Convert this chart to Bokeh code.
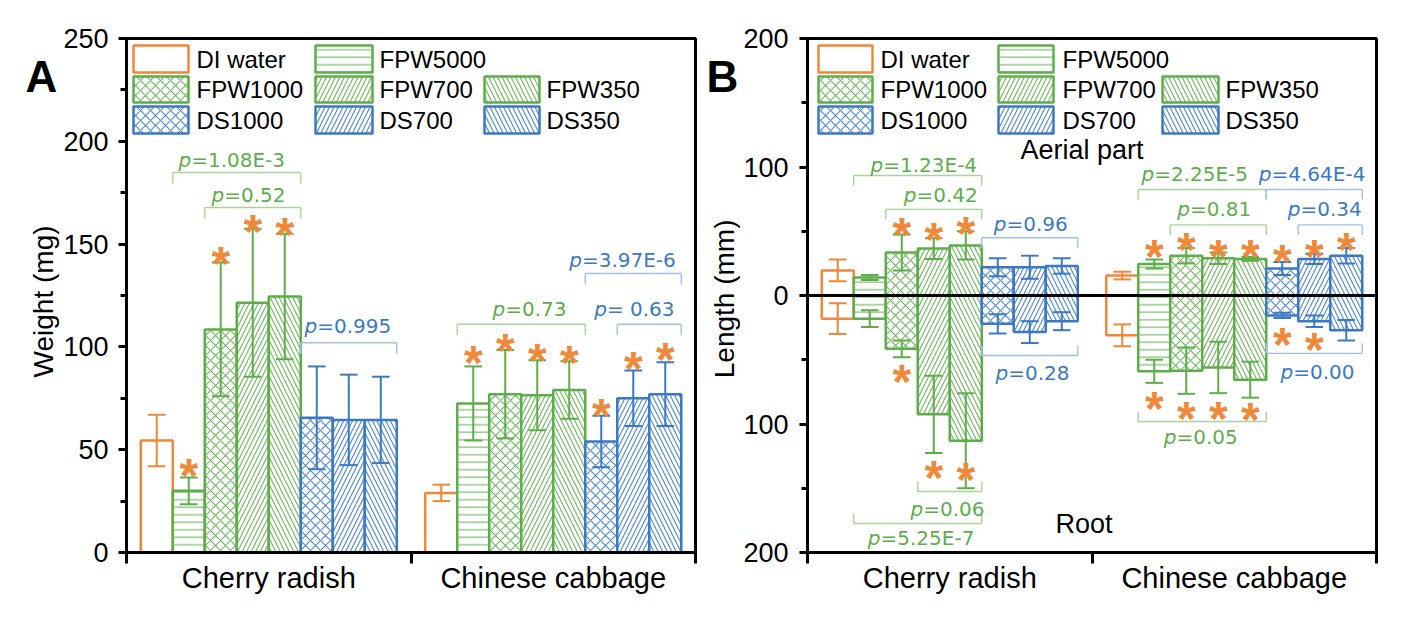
import math
from bokeh.plotting import figure
from bokeh.layouts import row
from bokeh.models import FixedTicker, Span, ColumnDataSource
from bokeh.core.properties import value
from bokeh.embed import file_html
from bokeh.resources import INLINE

# ---------------- data ----------------
CATEGORIES = ["Cherry radish", "Chinese cabbage"]
SERIES = ["DI water", "FPW5000", "FPW1000", "FPW700", "FPW350", "DS1000", "DS700", "DS350"]

# Panel A: weight (mg), mean and error
WEIGHT_CHERRY = [54.5, 30.0, 108.5, 121.5, 124.5, 65.5, 64.5, 64.5]
WEIGHT_CHERRY_ERR = [12.5, 6.5, 32.5, 36.0, 30.5, 25.0, 22.0, 21.0]
WEIGHT_CABBAGE = [29.0, 72.5, 77.0, 76.5, 79.0, 54.0, 75.0, 77.0]
WEIGHT_CABBAGE_ERR = [4.0, 18.0, 21.5, 17.0, 14.0, 12.5, 13.5, 15.5]

# Panel B: length (mm), aerial part (up) and root (down)
AERIAL_CHERRY = [19.5, 14.0, 33.5, 36.5, 39.0, 22.0, 22.0, 23.0]
AERIAL_CHERRY_ERR = [8.5, 2.0, 14.0, 8.0, 11.0, 7.0, 9.0, 6.0]
AERIAL_CABBAGE = [15.5, 24.5, 31.0, 29.0, 28.5, 21.0, 28.5, 31.0]
AERIAL_CABBAGE_ERR = [3.0, 3.5, 6.0, 4.5, 1.5, 5.0, 4.0, 6.0]
ROOT_CHERRY = [18.0, 18.0, 41.5, 92.5, 113.0, 22.0, 28.5, 20.0]
ROOT_CHERRY_ERR = [12.0, 6.5, 6.5, 30.0, 37.0, 7.5, 8.5, 7.0]
ROOT_CABBAGE = [31.0, 59.0, 58.5, 56.0, 65.5, 15.5, 20.0, 27.0]
ROOT_CABBAGE_ERR = [8.5, 9.0, 18.0, 20.0, 14.0, 2.0, 4.5, 8.0]

WEIGHT_TICKS = [0, 50, 100, 150, 200, 250]
WEIGHT_MINOR = [25, 75, 125, 175, 225]
LENGTH_TICKS = [-200, -100, 0, 100, 200]
LENGTH_TICK_LABELS = ["200", "100", "0", "100", "200"]
LENGTH_MINOR = [-150, -50, 50, 150]

# significance stars: (category, series, y)
STARS_A = [(0, 1, 42.8), (0, 2, 146), (0, 3, 161.5), (0, 4, 160),
           (1, 1, 98), (1, 2, 103.6), (1, 3, 98.7), (1, 4, 98),
           (1, 5, 72), (1, 6, 95), (1, 7, 99)]
STARS_B = [(0, 2, 56), (0, 3, 52), (0, 4, 57),
           (1, 1, 39), (1, 2, 44), (1, 3, 39), (1, 4, 39), (1, 5, 35), (1, 6, 39), (1, 7, 44),
           (0, 2, -58.4), (0, 3, -133), (0, 4, -134.6),
           (1, 1, -79), (1, 2, -87), (1, 3, -87), (1, 4, -88), (1, 5, -29.6), (1, 6, -33.5)]

# p-value brackets: (category, first series, last series, level, direction, colour key)
BRACKETS_A = [(0, 1, 4, 184.8, "down", "g"), (0, 2, 4, 167.8, "down", "g"),
              (0, 5, 7, 102.0, "down", "b"), (1, 1, 4, 111.0, "down", "g"),
              (1, 6, 7, 111.0, "down", "b"), (1, 5, 7, 135.7, "down", "b")]
BRACKETS_B = [(0, 1, 4, 93.4, "down", "g"), (0, 2, 4, 67.0, "down", "g"),
              (0, 5, 7, 45.0, "down", "b"), (1, 1, 4, 82.5, "down", "g"),
              (1, 5, 7, 82.5, "down", "b"), (1, 2, 4, 55.0, "down", "g"),
              (1, 6, 7, 55.0, "down", "b"),
              (0, 5, 7, -46.7, "up", "b"), (1, 5, 7, -45.0, "up", "b"),
              (1, 1, 4, -98.0, "up", "g"), (0, 3, 4, -152.5, "up", "g"),
              (0, 1, 4, -177.4, "up", "g")]

# p-value labels: (x where "=" starts, vertical centre y, text after p, colour key)
PLABELS_A = [(0.2274, 190.8, "=1.08E-3", "g"), (0.3434, 173.9, "=0.52", "g"),
             (0.6703, 110.4, "=0.995", "b"), (1.3311, 118.2, "=0.73", "g"),
             (1.6886, 118.2, " = 0.63", "b"), (1.6007, 142.5, "=3.97E-6", "b")]
PLABELS_B = [(0.2661, 101.4, "=1.23E-4", "g"), (0.3831, 78.1, "=0.42", "g"),
             (0.6995, 56.0, "=0.96", "b"), (1.2186, 94.9, "=2.25E-5", "g"),
             (1.6309, 94.9, "=4.64E-4", "b"), (1.3441, 67.7, "=0.81", "g"),
             (1.7329, 67.7, "=0.34", "b"), (0.7054, -60.7, "=0.28", "b"),
             (1.7072, -59.9, "=0.00", "b"), (1.2970, -110.0, "=0.05", "g"),
             (0.4067, -165.8, "=0.06", "g"), (0.2566, -189.1, "=5.25E-7", "g")]

# ---------------- style ----------------
ORANGE = "#F0883A"
GREEN = "#5DAE4B"
BLUE = "#3B7AC2"
LIGHT = {"g": "#A8D49B", "b": "#A2C0E6"}
TEXTC = {"g": "#5DAE4B", "b": "#3B7AC2"}
STAR = "#F0883A"
SERIES_COLORS = [ORANGE, GREEN, GREEN, GREEN, GREEN, BLUE, BLUE, BLUE]
SERIES_HATCH = [" ", "-", "x", "/", "\\", "x", "/", "\\"]
HATCH_SCALE = {" ": 8, "-": 7.5, "x": 10, "/": 9, "\\": 9}
FONT = "Liberation Sans"
PFONT = "DejaVu Sans"

BAR_W = 0.1125
FRAME_W, FRAME_H = 569, 514
HEIGHT = 604
TOP_BORDER = 38
BOTTOM_BORDER = HEIGHT - TOP_BORDER - FRAME_H


def bar_x(c, i):
    return c + 0.05 + BAR_W * (i + 0.5)


def bar_source(values_by_cat, sign):
    d = dict(x=[], top=[], bottom=[], color=[], hatch=[], hscale=[])
    for c, vals in enumerate(values_by_cat):
        for i, v in enumerate(vals):
            d["x"].append(bar_x(c, i))
            d["top"].append(v if sign > 0 else 0)
            d["bottom"].append(0 if sign > 0 else -v)
            d["color"].append(SERIES_COLORS[i])
            d["hatch"].append(SERIES_HATCH[i])
            d["hscale"].append(HATCH_SCALE[SERIES_HATCH[i]])
    return ColumnDataSource(d)


def draw_bars(p, values_by_cat, sign):
    src = bar_source(values_by_cat, sign)
    p.vbar(x="x", top="top", bottom="bottom", width=BAR_W, source=src,
           fill_color="white", line_color="color", line_width=2.5,
           hatch_pattern="hatch", hatch_color="color", hatch_scale="hscale",
           hatch_weight=1.1, hatch_alpha=0.9)


def draw_errors(p, values_by_cat, errs_by_cat, sign):
    x0, y0, x1, y1, col = [], [], [], [], []
    cap = 0.031
    for c, (vals, errs) in enumerate(zip(values_by_cat, errs_by_cat)):
        for i, (v, e) in enumerate(zip(vals, errs)):
            x = bar_x(c, i)
            m = sign * v
            lo, hi = m - e, m + e
            for seg in [(x, lo, x, hi), (x - cap, hi, x + cap, hi), (x - cap, lo, x + cap, lo)]:
                x0.append(seg[0]); y0.append(seg[1]); x1.append(seg[2]); y1.append(seg[3])
                col.append(SERIES_COLORS[i])
    p.segment(x0=x0, y0=y0, x1=x1, y1=y1, line_color=col, line_width=2)


def draw_stars(p, stars):
    xs = [bar_x(c, i) for c, i, _ in stars]
    ys = [y for _, _, y in stars]
    p.text(x=xs, y=ys, text=["*"] * len(xs), text_color=STAR,
           text_font=value(FONT), text_font_style="bold", text_font_size="48px",
           text_align="center", text_baseline="middle", y_offset=11)


def draw_brackets(p, brackets, drop):
    x0, y0, x1, y1, col = [], [], [], [], []
    for c, a, b, level, direction, ck in brackets:
        left = c + 0.05 + BAR_W * a
        right = c + 0.05 + BAR_W * (b + 1)
        end = level - drop if direction == "down" else level + drop
        for seg in [(left, level, right, level), (left, level, left, end), (right, level, right, end)]:
            x0.append(seg[0]); y0.append(seg[1]); x1.append(seg[2]); y1.append(seg[3])
            col.append(LIGHT[ck])
    p.segment(x0=x0, y0=y0, x1=x1, y1=y1, line_color=col, line_width=1.4)


def draw_plabels(p, labels):
    xs = [l[0] for l in labels]
    ys = [l[1] for l in labels]
    rest = [l[2] for l in labels]
    cols = [TEXTC[l[3]] for l in labels]
    p.text(x=xs, y=ys, text=["p"] * len(xs), text_color=cols, text_font=value(PFONT),
           text_font_style="italic", text_font_size="20px", text_align="right",
           text_baseline="middle")
    p.text(x=xs, y=ys, text=rest, text_color=cols, text_font=value(PFONT),
           text_font_size="20px", text_align="left", text_baseline="middle")


LEGEND_LAYOUT = [(0, 0, 0), (1, 0, 1), (2, 1, 0), (3, 1, 1), (4, 1, 2), (5, 2, 0), (6, 2, 1), (7, 2, 2)]
LEGEND_ROWS_PX = [(45, 72), (76, 102), (106, 133)]


def draw_legend(p, cols_px, fx, fy):
    d = dict(left=[], right=[], top=[], bottom=[], color=[], hatch=[], hscale=[])
    tx, ty, tt = [], [], []
    for s, r, c in LEGEND_LAYOUT:
        pl, pr, tl = cols_px[c]
        rt, rb = LEGEND_ROWS_PX[r]
        d["left"].append(fx(pl)); d["right"].append(fx(pr))
        d["top"].append(fy(rt)); d["bottom"].append(fy(rb))
        d["color"].append(SERIES_COLORS[s]); d["hatch"].append(SERIES_HATCH[s])
        d["hscale"].append(HATCH_SCALE[SERIES_HATCH[s]])
        tx.append(fx(tl)); ty.append(fy((rt + rb) / 2)); tt.append(SERIES[s])
    p.quad(left="left", right="right", top="top", bottom="bottom", source=ColumnDataSource(d),
           fill_color="white", line_color="color", line_width=2.5,
           hatch_pattern="hatch", hatch_color="color", hatch_scale="hscale",
           hatch_weight=1.1, hatch_alpha=0.9)
    p.text(x=tx, y=ty, text=tt, text_color="black", text_font=value(FONT),
           text_font_size="24px", text_align="left", text_baseline="middle")


def style(p):
    p.xgrid.visible = False
    p.ygrid.visible = False
    p.outline_line_color = "black"
    p.outline_line_width = 3
    p.outline_line_alpha = 1.0
    p.background_fill_color = "white"
    p.border_fill_color = "white"
    xa = p.xaxis[0]
    xa.ticker = FixedTicker(ticks=[0.5, 1.5], minor_ticks=[0, 1, 2])
    xa.major_label_overrides = {0.5: CATEGORIES[0], 1.5: CATEGORIES[1]}
    xa.major_tick_out = 0
    xa.major_tick_in = 0
    xa.minor_tick_out = 11
    xa.minor_tick_in = 0
    xa.major_label_standoff = -2
    xa.major_label_text_font_size = "29px"
    ya = p.yaxis[0]
    ya.major_tick_out = 8
    ya.major_tick_in = 0
    ya.minor_tick_out = 6
    ya.minor_tick_in = 0
    ya.major_label_text_font_size = "27px"
    for ax in (xa, ya):
        ax.axis_line_width = 3
        ax.axis_line_color = "black"
        ax.major_tick_line_width = 3
        ax.minor_tick_line_width = 3
        ax.major_tick_line_color = "black"
        ax.minor_tick_line_color = "black"
        ax.major_label_text_font = FONT
        ax.major_label_text_color = "black"


def label_fig(width, x_start, letter, letter_x, ylabel, ylabel_x, ylabel_y):
    # narrow strip holding the panel letter and the rotated y-axis title (page pixel coordinates)
    f = figure(width=width, height=HEIGHT, x_range=(x_start, x_start + width), y_range=(0, HEIGHT),
               output_backend="svg", toolbar_location=None, min_border=0,
               x_axis_location=None, y_axis_location=None)
    f.xgrid.visible = False
    f.ygrid.visible = False
    f.outline_line_color = None
    f.background_fill_color = "white"
    f.border_fill_color = "white"
    f.text(x=[letter_x], y=[HEIGHT - 45], text=[letter], text_color="black",
           text_font=value(FONT), text_font_style="bold",
           text_font_size="44px", text_align="left", text_baseline="middle")
    f.text(x=[ylabel_x], y=[HEIGHT - ylabel_y], text=[ylabel], text_color="black",
           text_font=value(FONT), text_font_size="28px", angle=math.pi / 2,
           text_align="center", text_baseline="middle")
    return f


# ---------------- panel A ----------------
LA_W = 60
pa = figure(frame_width=FRAME_W, frame_height=FRAME_H, x_range=(0, 2), y_range=(0, 250),
            output_backend="svg", toolbar_location=None,
            min_border_left=124 - LA_W, min_border_right=5,
            min_border_top=TOP_BORDER, min_border_bottom=BOTTOM_BORDER)
style(pa)
pa.yaxis[0].ticker = FixedTicker(ticks=WEIGHT_TICKS, minor_ticks=WEIGHT_MINOR)
pa.yaxis[0].major_label_standoff = 10

draw_bars(pa, [WEIGHT_CHERRY, WEIGHT_CABBAGE], 1)
draw_errors(pa, [WEIGHT_CHERRY, WEIGHT_CABBAGE], [WEIGHT_CHERRY_ERR, WEIGHT_CABBAGE_ERR], 1)
draw_stars(pa, STARS_A)
draw_brackets(pa, BRACKETS_A, 5.35)
draw_plabels(pa, PLABELS_A)

A_X0 = 124.0
A_Y0 = 552.0
fxa = lambda px: (px - A_X0) / (FRAME_W / 2.0)
fya = lambda py: (A_Y0 - py) * 250.0 / FRAME_H
draw_legend(pa, [(131, 186, 194), (313, 370, 377), (482, 537, 544)], fxa, fya)

la = label_fig(LA_W, 0, "A", 25, "Weight (mg)", 43, 309)

# ---------------- panel B ----------------
PA_RIGHT = LA_W + (124 - LA_W) + FRAME_W + 5
LB_W = 40
pb = figure(frame_width=FRAME_W, frame_height=FRAME_H, x_range=(0, 2), y_range=(-200, 200),
            output_backend="svg", toolbar_location=None,
            min_border_left=802 - PA_RIGHT - LB_W, min_border_right=18,
            min_border_top=TOP_BORDER, min_border_bottom=BOTTOM_BORDER)
style(pb)
pb.yaxis[0].ticker = FixedTicker(ticks=LENGTH_TICKS, minor_ticks=LENGTH_MINOR)
pb.yaxis[0].major_label_overrides = {t: l for t, l in zip(LENGTH_TICKS, LENGTH_TICK_LABELS)}
pb.yaxis[0].major_label_standoff = 11

draw_bars(pb, [AERIAL_CHERRY, AERIAL_CABBAGE], 1)
draw_bars(pb, [ROOT_CHERRY, ROOT_CABBAGE], -1)
draw_errors(pb, [AERIAL_CHERRY, AERIAL_CABBAGE], [AERIAL_CHERRY_ERR, AERIAL_CABBAGE_ERR], 1)
draw_errors(pb, [ROOT_CHERRY, ROOT_CABBAGE], [ROOT_CHERRY_ERR, ROOT_CABBAGE_ERR], -1)
pb.add_layout(Span(location=0, dimension="width", line_color="black", line_width=3))
draw_stars(pb, STARS_B)
draw_brackets(pb, BRACKETS_B, 7.8)
draw_plabels(pb, PLABELS_B)

B_X0 = 802.0
B_Y0 = 295.0
fxb = lambda px: (px - B_X0) / (FRAME_W / 2.0)
fyb = lambda py: (B_Y0 - py) * 400.0 / FRAME_H
draw_legend(pb, [(813, 867, 875), (993, 1048, 1057), (1157, 1213, 1220)], fxb, fyb)
pb.text(x=[fxb(1015), fxb(1050)], y=[fyb(149.5), fyb(523)], text=["Aerial part", "Root"],
        text_color="black", text_font=value(FONT), text_font_size="27px",
        text_align="left", text_baseline="middle")

lb = label_fig(LB_W, PA_RIGHT, "B", 704, "Length (mm)", 722, 306)

layout = row(la, pa, lb, pb)
open("out.html", "w").write(file_html(layout, INLINE))
